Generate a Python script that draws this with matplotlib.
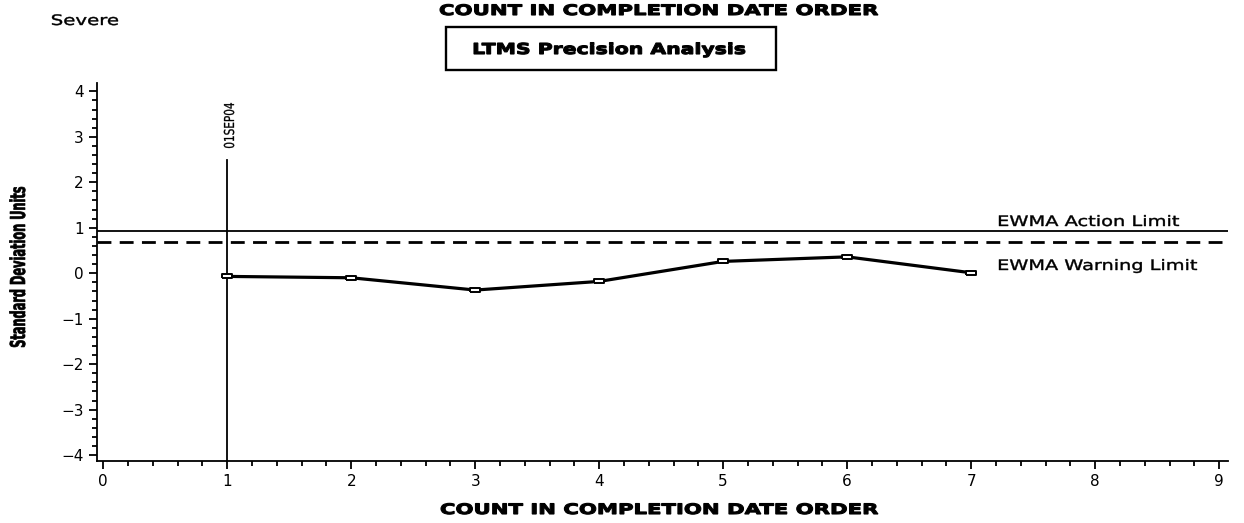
import matplotlib
matplotlib.use('Agg')
import matplotlib.pyplot as plt
from matplotlib.ticker import MultipleLocator
from matplotlib.textpath import TextPath
from matplotlib.font_manager import FontProperties
from matplotlib.patches import PathPatch, Rectangle
from matplotlib.transforms import Affine2D

counts = [1, 2, 3, 4, 5, 6, 7]
ewma = [-0.07, -0.10, -0.37, -0.18, 0.26, 0.36, 0.01]
action_limit = 0.93
warning_limit = 0.69
date_count = 1
date_label = '01SEP04'
date_top = 2.5

W, H, DPI = 1244, 523, 100
fig = plt.figure(figsize=(W / DPI, H / DPI), dpi=DPI)
ax = fig.add_axes([0.078, 0.1185, 0.909, 0.7225])


def wide_text(s, x0, x1, base, cap, weight='normal', vertical=False, stroke=0.0):
    # SAS fonts are much wider than DejaVu: stretch the glyph outlines to fit
    prop = FontProperties(family='DejaVu Sans', weight=weight)
    tp = TextPath((0, 0), s, size=10, prop=prop)
    capref = TextPath((0, 0), 'H', size=10, prop=prop).get_extents().height
    ext = tp.get_extents()
    tr = Affine2D().translate(-ext.x0, 0).scale((x1 - x0) / ext.width, cap / capref)
    if vertical:
        tr = tr.rotate_deg(90).translate(base, H - x1)
    else:
        tr = tr.translate(x0, H - base)
    fig.add_artist(PathPatch(tp, transform=tr + Affine2D().scale(1 / DPI) + fig.dpi_scale_trans,
                             facecolor='black', edgecolor='black', linewidth=stroke))


rect_marker = [(-1, -0.5), (1, -0.5), (1, 0.5), (-1, 0.5), (-1, -0.5)]
ax.plot(counts, ewma, color='black', linewidth=2.3, marker=rect_marker, markersize=7,
        markerfacecolor='white', markeredgecolor='black', markeredgewidth=1.4, zorder=3)
ax.axhline(action_limit, color='black', linewidth=1.3)
ax.axhline(warning_limit, color='black', linewidth=2, linestyle=(0, (5, 3)))
ax.plot([date_count, date_count], [-4.2, date_top], color='black', linewidth=1.3)

ax.set_xlim(-0.05, 9.07)
ax.set_ylim(-4.13, 4.18)
ax.xaxis.set_major_locator(MultipleLocator(1))
ax.xaxis.set_minor_locator(MultipleLocator(0.2))
ax.yaxis.set_major_locator(MultipleLocator(1))
ax.yaxis.set_minor_locator(MultipleLocator(0.2))
ax.tick_params(which='major', length=6, width=1.3, labelsize=11)
ax.tick_params(which='minor', length=3.5, width=1.3)
for s in ['top', 'right']:
    ax.spines[s].set_visible(False)
for s in ['left', 'bottom']:
    ax.spines[s].set_linewidth(1.3)

# texts placed in pixel layout of the reference
wide_text('COUNT IN COMPLETION DATE ORDER', 440, 878, 15, 10.5, weight='bold', stroke=0.8)
wide_text('COUNT IN COMPLETION DATE ORDER', 441, 878, 514, 10.5, weight='bold', stroke=0.8)
wide_text('Severe', 52, 118, 25, 10.5, stroke=0.3)
wide_text('LTMS Precision Analysis', 474, 745, 54, 11, weight='bold', stroke=0.8)
fig.add_artist(Rectangle((446 / W, 1 - 70 / H), 330 / W, 43 / H, transform=fig.transFigure,
                         fill=False, edgecolor='black', linewidth=1.7))
wide_text('EWMA Action Limit', 999, 1179, 226, 10.5, stroke=0.3)
wide_text('EWMA Warning Limit', 999, 1197, 270, 10.5, stroke=0.3)
wide_text('Standard Deviation Units', 187, 347, 25, 15, weight='bold', vertical=True, stroke=0.5)
wide_text(date_label, 103, 148, 234, 10, vertical=True, stroke=0.2)

fig.savefig('out.png', dpi=DPI)
